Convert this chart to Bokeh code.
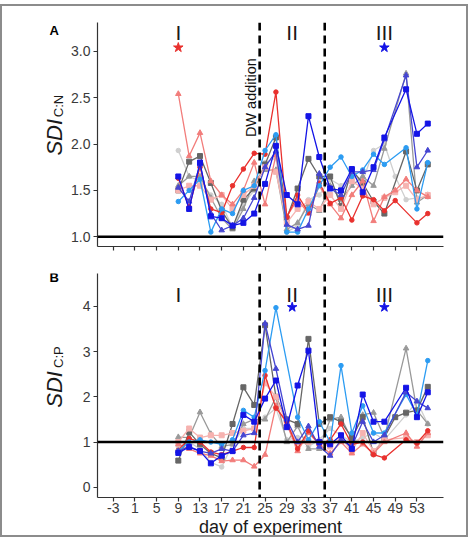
from bokeh.plotting import figure
from bokeh.layouts import column, row
from bokeh.models import Range1d, FixedTicker, Span, Label, ColumnDataSource
from bokeh.core.properties import value
from bokeh.embed import file_html
from bokeh.resources import INLINE
import math

N = None

# sampling days of the experiment
days = list(range(9, 56, 2))

# x axis ticks
tick_days = list(range(-3, 54, 4))
tick_labels = [str(d) for d in tick_days]

# y axis ticks
cn_ticks = [1.0, 1.5, 2.0, 2.5, 3.0]
cn_tick_labels = ["1.0", "1.5", "2.0", "2.5", "3.0"]
cp_ticks = [0, 1, 2, 3, 4]
cp_tick_labels = ["0", "1", "2", "3", "4"]

# experimental phases and events
period_days = [9, 30, 47]
period_names = ["I", "II", "III"]
dw_days = [24, 36]

# significance marks
cn_star_days = [9, 47]
cn_star_colors = ["#E9312E", "#1414E6"]
cp_star_days = [30, 47]
cp_star_colors = ["#1414E6", "#1414E6"]

# SDI C:N per mesocosm
cn_light_grey = [1.93, 1.65, 1.60, 1.45, 1.35, 1.10, 1.35, 1.50, 1.80, 1.85, 1.05, 1.12,
                 1.40, 1.45, 1.62, 1.55, 1.65, 1.60, 1.93, 2.00, 1.65, 1.40, 1.42, 1.43]
cn_grey = [1.55, 1.65, 1.65, 1.42, 1.20, 1.08, 1.30, 1.60, 1.72, 1.72, 1.08, 1.15,
           1.35, 1.28, 1.55, 1.40, 1.55, 1.65, 1.55, 1.95, N, 2.76, 1.37, 1.45]
cn_dark_grey = [1.50, 1.81, 1.87, 1.58, 1.28, 1.10, 1.40, 1.52, 1.78, 2.07, 1.20, 1.52,
                1.84, 1.65, 1.65, 1.33, 1.72, 1.58, 1.38, 1.25, N, 1.92, 1.50, 1.78]
cn_pink = [1.50, 1.55, 1.55, 1.40, 1.45, 1.30, 1.45, 1.55, 1.75, 1.70, 1.15, 1.30,
           1.38, 1.30, 1.45, 1.30, 1.60, 1.52, 1.35, 1.42, 1.48, 1.55, 1.40, 1.45]
cn_salmon = [2.54, 1.87, 2.12, 1.60, 1.45, 1.35, 1.50, 1.80, 1.35, 1.88, 1.22, 1.40,
             1.25, 1.55, 1.35, 1.20, 1.45, 1.60, 1.17, 1.43, 1.50, 1.62, 1.50, 1.43]
cn_red = [1.63, 1.32, 1.75, 1.30, 1.26, 1.55, 1.73, 1.90, 1.89, 2.56, 1.21, 1.45,
          1.26, 1.58, 1.36, 1.42, 1.18, 1.44, 1.40, 1.28, 1.39, N, 1.15, 1.25]
cn_light_blue = [1.38, 1.50, 1.62, 1.05, 1.30, 1.25, 1.50, 1.55, 1.93, 2.10, 1.05, 1.05,
                 1.30, 1.55, 1.75, 1.86, 1.65, 1.72, 1.89, 1.78, N, 1.96, 1.30, 1.80]
cn_mid_blue = [1.53, 1.38, 1.78, 1.25, 1.07, 1.12, 1.20, 1.42, 1.75, 1.92, 1.13, 1.08,
               1.12, 1.68, 1.52, 1.45, 1.70, 1.70, 1.72, 2.05, N, 2.74, 1.75, 1.93]
cn_blue = [1.65, 1.30, 1.80, 1.22, 1.20, 1.12, 1.15, 1.25, 1.57, 1.98, 1.45, 1.35,
           2.30, 1.86, 1.52, 1.50, 1.73, 1.48, 1.75, 2.07, N, 2.59, 2.11, 2.22]

# SDI C:P per mesocosm
cp_light_grey = [0.90, 1.00, 0.85, 0.55, 0.45, 0.95, 1.30, 1.30, 1.55, 1.75, 1.05, 1.10,
                 0.90, 1.05, 1.30, 1.15, 1.00, 1.10, 1.20, 1.05, N, 1.60, 1.90, 1.40]
cp_grey = [1.11, 1.10, 1.66, 1.18, 0.90, 0.95, 1.40, 1.50, 1.50, 1.99, 1.00, 1.35,
           0.85, 0.85, 1.50, 1.55, 1.05, 1.60, 1.65, 1.10, N, 3.07, 1.70, 1.40]
cp_dark_grey = [0.59, 1.22, 0.95, 0.75, 0.65, 1.40, 2.21, 1.82, 3.58, 2.00, 1.50, 1.40,
                3.28, 1.40, 1.55, 1.45, 1.10, 1.55, 0.75, 1.10, 1.55, 1.65, 1.70, 2.22]
cp_pink = [1.00, 1.30, 1.10, 1.15, 1.15, 1.20, 1.25, 1.30, 2.30, 2.00, 1.40, 0.95,
           1.00, 1.00, 0.90, 1.10, 0.80, 1.20, 0.80, 1.05, N, 1.10, 1.00, 1.15]
cp_salmon = [0.95, 0.85, 0.75, 0.70, 0.58, 0.60, 0.60, 0.46, 0.72, 1.80, 1.40, 0.80,
             1.20, 0.95, 0.75, 1.00, 0.75, 0.95, 0.75, 1.00, N, 1.20, 0.90, 1.20]
cp_red = [0.82, 1.08, 1.00, 0.78, 0.72, 0.80, 0.88, 0.88, 2.47, 1.75, 1.45, 0.85,
          1.25, 0.95, 1.05, 1.40, 0.95, 1.00, 0.72, 0.65, N, 1.05, 0.98, 1.25]
cp_light_blue = [0.80, 1.00, 1.05, 1.00, 0.95, 1.05, 1.70, 1.55, 2.58, 3.97, N, 1.55,
                 1.05, 1.45, 1.00, 2.69, 1.20, 1.80, 1.20, 1.20, N, 2.05, 1.60, 2.80]
cp_mid_blue = [0.80, 0.90, 0.80, 0.75, 0.85, 0.80, 1.15, 1.20, 3.62, 2.62, 1.50, 1.00,
               1.35, 0.90, 0.70, 1.05, 0.90, 1.45, 1.00, 1.15, N, 2.10, 1.90, 1.75]
cp_blue = [0.76, 0.89, 0.80, 0.53, 0.70, 0.80, 1.60, 1.45, 1.96, 2.36, 1.33, 2.25,
           3.02, 1.00, 0.95, 1.15, 0.85, 2.05, 1.45, 1.45, N, 2.20, 1.55, 2.10]

# drawing style of each mesocosm: (colour, marker, marker size)
styles = [
    ("#CFCFCF", "circle", 4.5),
    ("#999999", "triangle", 5.5),
    ("#666666", "square", 5),
    ("#F6B3B0", "square", 5),
    ("#F27D7B", "triangle", 5.5),
    ("#E9312E", "circle", 4.5),
    ("#2C9CF2", "circle", 4.5),
    ("#4646D2", "triangle", 5.5),
    ("#1414E6", "square", 5),
]

cn_series = [cn_light_grey, cn_grey, cn_dark_grey, cn_pink, cn_salmon, cn_red,
             cn_light_blue, cn_mid_blue, cn_blue]
cp_series = [cp_light_grey, cp_grey, cp_dark_grey, cp_pink, cp_salmon, cp_red,
             cp_light_blue, cp_mid_blue, cp_blue]

FONT = "Liberation Sans"
AXIS_COL = "#333333"
TICK_TEXT = "#3A3A3A"
TITLE_COL = "#1A1A1A"

LABEL_W = 66          # width of the strip holding the y titles
TOTAL_W = 464
STRIP_TOP = 15        # space Bokeh keeps above the frame of a bare strip


def make_panel(height, top, bottom, y_lo, y_hi, yticks, ylabels, show_x_labels):
    p = figure(width=TOTAL_W - LABEL_W, height=height, output_backend="svg",
               toolbar_location=None, title=None,
               x_range=Range1d(-5.9, 57.9), y_range=Range1d(y_lo, y_hi),
               min_border_left=95 - LABEL_W, min_border_right=23,
               min_border_top=top, min_border_bottom=bottom)
    p.outline_line_color = None
    p.grid.visible = False
    p.background_fill_color = "white"
    p.border_fill_color = "white"

    for ax in (p.xaxis[0], p.yaxis[0]):
        ax.axis_line_color = AXIS_COL
        ax.axis_line_width = 1.2
        ax.major_tick_line_color = AXIS_COL
        ax.major_tick_line_width = 1.2
        ax.major_tick_in = 0
        ax.major_tick_out = 4
        ax.minor_tick_line_color = None
        ax.major_label_text_font = FONT
        ax.major_label_text_color = TICK_TEXT
        ax.major_label_text_font_size = "14px"

    p.xaxis.ticker = FixedTicker(ticks=tick_days)
    if show_x_labels:
        p.xaxis.major_label_overrides = {d: t for d, t in zip(tick_days, tick_labels)}
        p.xaxis.major_label_standoff = 1
    else:
        p.xaxis.major_label_overrides = {d: "" for d in tick_days}
        p.xaxis.major_label_text_font_size = "1px"
        p.xaxis.major_label_standoff = 0

    p.yaxis.ticker = FixedTicker(ticks=yticks)
    p.yaxis.major_label_overrides = {t: s for t, s in zip(yticks, ylabels)}
    p.yaxis.major_label_standoff = 3
    return p


def blank(width, height, y_top):
    """A bare canvas measured in pixels (y counted from the bottom) for titles."""
    b = figure(width=width, height=height, output_backend="svg", toolbar_location=None,
               title=None, x_axis_location=None, y_axis_location=None,
               x_range=Range1d(0, width), y_range=Range1d(0, y_top),
               min_border=0, min_border_left=0, min_border_right=0,
               min_border_top=0, min_border_bottom=0)
    b.grid.visible = False
    b.outline_line_color = None
    b.border_fill_color = "white"
    b.background_fill_color = "white"
    return b


def draw_series(p, series):
    for ys, (color, marker, size) in zip(series, styles):
        xs = [d for d, v in zip(days, ys) if v is not None]
        vs = [v for v in ys if v is not None]
        src = ColumnDataSource(dict(x=xs, y=vs))
        p.line("x", "y", source=src, line_color=color, line_width=1.3)
        p.scatter("x", "y", source=src, marker=marker, size=size,
                  fill_color=color, line_color=color)


def draw_reference_lines(p):
    p.add_layout(Span(location=1, dimension="width", line_color="black", line_width=2.5))
    for d in dw_days:
        p.add_layout(Span(location=d, dimension="height", line_color="black",
                          line_width=2.6, line_dash="8 5"))


def draw_periods(p, y_name, star_days, star_colors, y_star):
    src = ColumnDataSource(dict(x=period_days, y=[y_name] * len(period_days), t=period_names))
    p.text("x", "y", text="t", source=src, text_font=value(FONT), text_font_size="21px",
           text_color=TITLE_COL, text_align="center", text_baseline="middle")
    ssrc = ColumnDataSource(dict(x=star_days, y=[y_star] * len(star_days), c=star_colors))
    p.scatter("x", "y", source=ssrc, marker="star", size=10, fill_color="c", line_color="c")


def side_titles(b, letter, letter_y, main_y, sub_y, sub_text):
    b.add_layout(Label(x=47, y=letter_y, text=letter, text_font=FONT,
                       text_font_style="bold", text_font_size="13px", text_color="black",
                       text_align="left", text_baseline="middle"))
    b.add_layout(Label(x=52, y=main_y, text="SDI", angle=math.pi / 2, text_font=FONT,
                       text_font_style="italic", text_font_size="22px",
                       text_color=TITLE_COL, text_align="left", text_baseline="middle"))
    b.add_layout(Label(x=55.5, y=sub_y, text=sub_text, angle=math.pi / 2, text_font=FONT,
                       text_font_size="13px", text_color=TITLE_COL,
                       text_align="left", text_baseline="middle"))


# Panel A: C:N
pA = make_panel(254, 16, 14, 0.895, 3.31, cn_ticks, cn_tick_labels, False)
draw_series(pA, cn_series)
draw_reference_lines(pA)
draw_periods(pA, 3.197, cn_star_days, cn_star_colors, 3.04)
pA.add_layout(Label(x=22.4, y=2.50, text="DW addition", angle=math.pi / 2,
                    text_font=FONT, text_font_size="14.5px", text_color="#111111",
                    text_align="center", text_baseline="middle"))
labA = blank(LABEL_W, 254, 254 - STRIP_TOP)
side_titles(labA, "A", 230, 97, 138, "C:N")

# Panel B: C:P
pB = make_panel(257, 13, 20, -0.225, 4.725, cp_ticks, cp_tick_labels, True)
draw_series(pB, cp_series)
draw_reference_lines(pB)
draw_periods(pB, 4.27, cp_star_days, cp_star_colors, 3.98)
labB = blank(LABEL_W, 257, 257 - STRIP_TOP)
side_titles(labB, "B", 238, 97, 140, "C:P")

# x axis title strip
xlab = blank(TOTAL_W, 18, 18)
xlab.add_layout(Label(x=268, y=8.5, text="day of experiment", text_font=FONT,
                      text_font_size="18px", text_color=TITLE_COL, text_align="center",
                      text_baseline="middle"))

layout = column(row(labA, pA, spacing=0), row(labB, pB, spacing=0), xlab,
                margin=(4, 0, 0, 0), spacing=0,
                styles={"border": "2px solid #8C8C8C"})

open("out.html", "w").write(file_html(layout, INLINE))
